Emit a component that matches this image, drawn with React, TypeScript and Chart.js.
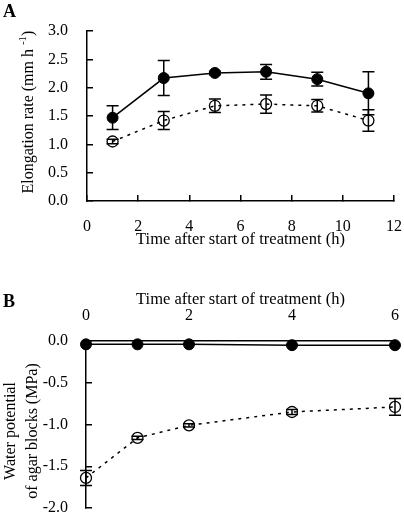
import { useEffect, useRef } from "react";
import { Chart, registerables } from "chart.js";

Chart.register(...registerables);

const FONT = '"Liberation Serif", "Times New Roman", serif';
Chart.defaults.font.family = FONT;
Chart.defaults.color = "#000";

// ---------- Panel A data ----------
const aTimes = [1, 3, 5, 7, 9, 11];
const aControl = [1.47, 2.17, 2.26, 2.28, 2.15, 1.9];
const aControlErr = [0.21, 0.31, 0.03, 0.13, 0.12, 0.38];
const aTreated = [1.05, 1.42, 1.68, 1.71, 1.68, 1.42];
const aTreatedErr = [0.04, 0.16, 0.12, 0.16, 0.11, 0.19];
const aXTicks = [0, 2, 4, 6, 8, 10, 12];
const aYTicks = [0, 0.5, 1, 1.5, 2, 2.5, 3];

// ---------- Panel B data ----------
const bTimes = [0, 1, 2, 4, 6];
const bControl = [-0.04, -0.04, -0.04, -0.05, -0.05];
const bTreated = [-1.64, -1.16, -1.01, -0.85, -0.79];
const bTreatedErr = [0.09, 0.02, 0.02, 0.03, 0.1];
const bXTicks = [0, 2, 4, 6];
const bYTicks = [0, -0.5, -1, -1.5, -2];

const errorBarPlugin = {
  id: "errorBars",
  afterDatasetsDraw(chart: any) {
    const ctx = chart.ctx;
    const xs = chart.scales.x;
    const ys = chart.scales.y;
    chart.data.datasets.forEach((ds: any) => {
      if (!ds.errors) return;
      ds.data.forEach((p: any, j: number) => {
        const e = ds.errors[j];
        if (!e) return;
        const x = xs.getPixelForValue(p.x);
        const yT = ys.getPixelForValue(p.y + e);
        const yB = ys.getPixelForValue(p.y - e);
        ctx.save();
        ctx.strokeStyle = "#000";
        ctx.lineWidth = 1.5;
        ctx.beginPath();
        ctx.moveTo(x, yT);
        ctx.lineTo(x, yB);
        ctx.moveTo(x - 6, yT);
        ctx.lineTo(x + 6, yT);
        ctx.moveTo(x - 6, yB);
        ctx.lineTo(x + 6, yB);
        ctx.stroke();
        ctx.restore();
      });
    });
  },
};

function makeTextPlugin(draw: (ctx: CanvasRenderingContext2D) => void) {
  return {
    id: "panelText",
    afterDraw(chart: any) {
      const ctx = chart.ctx as CanvasRenderingContext2D;
      ctx.save();
      ctx.fillStyle = "#000";
      draw(ctx);
      ctx.restore();
    },
  };
}

const textA = makeTextPlugin((ctx) => {
  ctx.font = `bold 18px ${FONT}`;
  ctx.textBaseline = "alphabetic";
  ctx.textAlign = "left";
  ctx.fillText("A", 3, 17);

  // rotated y title with superscript
  const main = "Elongation rate (mm h ";
  const sup = "-1";
  const close = ")";
  ctx.font = `16px ${FONT}`;
  const w1 = ctx.measureText(main).width;
  const w3 = ctx.measureText(close).width;
  ctx.font = `11px ${FONT}`;
  const w2 = ctx.measureText(sup).width;
  const total = w1 + w2 + w3;
  ctx.translate(33, 112);
  ctx.rotate(-Math.PI / 2);
  let x = -total / 2;
  ctx.font = `16px ${FONT}`;
  ctx.fillText(main, x, 0);
  x += w1;
  ctx.font = `11px ${FONT}`;
  ctx.fillText(sup, x, -7);
  x += w2;
  ctx.font = `16px ${FONT}`;
  ctx.fillText(close, x, 0);
});

const textB = makeTextPlugin((ctx) => {
  ctx.font = `bold 18px ${FONT}`;
  ctx.textBaseline = "alphabetic";
  ctx.textAlign = "left";
  ctx.fillText("B", 3, 57);

  ctx.font = `16px ${FONT}`;
  ctx.textAlign = "center";
  ctx.translate(0, 181);
  ctx.rotate(-Math.PI / 2);
  ctx.fillText("Water potential", 0, 15);
  ctx.fillText("of agar blocks (MPa)", 0, 36.5);
});

function zeroPad(s: any) {
  s.paddingTop = 0;
  s.paddingBottom = 0;
  s.paddingLeft = 0;
  s.paddingRight = 0;
}

const tickFont = { family: FONT, size: 16 };
const titleFont = { family: FONT, size: 16.5 };

export default function App() {
  const refA = useRef<HTMLCanvasElement>(null);
  const refB = useRef<HTMLCanvasElement>(null);

  useEffect(() => {
    const chartA = new Chart(refA.current!, {
      type: "line",
      data: {
        datasets: [
          {
            data: aTimes.map((t, i) => ({ x: t, y: aTreated[i] })),
            errors: aTreatedErr,
            borderColor: "#000",
            borderWidth: 1.5,
            borderDash: [3, 5],
            pointRadius: 5.5,
            pointBorderWidth: 1.3,
            pointBorderColor: "#000",
            pointBackgroundColor: "rgba(0,0,0,0)",
            tension: 0,
            clip: false,
          } as any,
          {
            data: aTimes.map((t, i) => ({ x: t, y: aControl[i] })),
            errors: aControlErr,
            borderColor: "#000",
            borderWidth: 1.5,
            pointRadius: 5.5,
            pointBorderWidth: 1,
            pointBorderColor: "#000",
            pointBackgroundColor: "#000",
            tension: 0,
            clip: false,
          } as any,
        ],
      },
      options: {
        responsive: false,
        animation: false,
        devicePixelRatio: 1,
        layout: { padding: { top: 31, right: 10, left: 0, bottom: 0 } },
        plugins: { legend: { display: false }, tooltip: { enabled: false } },
        scales: {
          x: {
            type: "linear",
            position: "bottom",
            min: 0,
            max: 12,
            afterBuildTicks: (s: any) => {
              s.ticks = aXTicks.map((v) => ({ value: v }));
            },
            afterFit: (s: any) => {
              s.height = 49;
              zeroPad(s);
            },
            grid: { drawOnChartArea: false, drawTicks: true, tickLength: -6, color: "#000", lineWidth: 1.5 },
            border: { display: true, color: "#000", width: 1.5 },
            ticks: {
              color: "#000",
              font: tickFont,
              padding: 22,
              maxRotation: 0,
              autoSkip: false,
              callback: (v: any) => String(v),
            },
            title: {
              display: true,
              text: "Time after start of treatment (h)",
              color: "#000",
              font: titleFont,
              padding: { top: 0, bottom: 0 },
            },
          },
          y: {
            type: "linear",
            position: "left",
            min: 0,
            max: 3,
            afterBuildTicks: (s: any) => {
              s.ticks = aYTicks.map((v) => ({ value: v }));
            },
            afterFit: (s: any) => {
              s.width = 87;
              zeroPad(s);
            },
            grid: { drawOnChartArea: false, drawTicks: true, tickLength: -6, color: "#000", lineWidth: 1.5 },
            border: { display: true, color: "#000", width: 1.5 },
            ticks: {
              color: "#000",
              font: tickFont,
              padding: 25,
              autoSkip: false,
              callback: (v: any) => Number(v).toFixed(1),
            },
          },
        },
      } as any,
      plugins: [errorBarPlugin, textA],
    });

    const chartB = new Chart(refB.current!, {
      type: "line",
      data: {
        datasets: [
          {
            data: bTimes.map((t, i) => ({ x: t, y: bTreated[i] })),
            errors: bTreatedErr,
            borderColor: "#000",
            borderWidth: 1.5,
            borderDash: [3, 5],
            pointRadius: 5.5,
            pointBorderWidth: 1.3,
            pointBorderColor: "#000",
            pointBackgroundColor: "rgba(0,0,0,0)",
            tension: 0,
            clip: false,
          } as any,
          {
            data: bTimes.map((t, i) => ({ x: t, y: bControl[i] })),
            borderColor: "#000",
            borderWidth: 1.5,
            pointRadius: 5.5,
            pointBorderWidth: 1,
            pointBorderColor: "#000",
            pointBackgroundColor: "#000",
            tension: 0,
            clip: false,
          } as any,
        ],
      },
      options: {
        responsive: false,
        animation: false,
        devicePixelRatio: 1,
        layout: { padding: { top: 0, right: 9, left: 0, bottom: 7 } },
        plugins: { legend: { display: false }, tooltip: { enabled: false } },
        scales: {
          x: {
            type: "linear",
            position: "top",
            min: 0,
            max: 6,
            afterBuildTicks: (s: any) => {
              s.ticks = bXTicks.map((v) => ({ value: v }));
            },
            afterFit: (s: any) => {
              s.height = 91;
              zeroPad(s);
            },
            grid: { display: false, drawOnChartArea: false, drawTicks: false, tickLength: 0 },
            border: { display: true, color: "#000", width: 1.5 },
            ticks: {
              color: "#000",
              font: tickFont,
              padding: 16,
              maxRotation: 0,
              autoSkip: false,
              callback: (v: any) => String(v),
            },
            title: {
              display: true,
              text: "Time after start of treatment (h)",
              color: "#000",
              font: titleFont,
              padding: { top: 40, bottom: 0 },
            },
          },
          y: {
            type: "linear",
            position: "left",
            min: -2,
            max: 0,
            afterBuildTicks: (s: any) => {
              s.ticks = bYTicks.map((v) => ({ value: v }));
            },
            afterFit: (s: any) => {
              s.width = 86;
              zeroPad(s);
            },
            grid: { drawOnChartArea: false, drawTicks: true, tickLength: -6, color: "#000", lineWidth: 1.5 },
            border: { display: true, color: "#000", width: 1.5 },
            ticks: {
              color: "#000",
              font: tickFont,
              padding: 24,
              autoSkip: false,
              callback: (v: any) => Number(v).toFixed(1),
            },
          },
        },
      } as any,
      plugins: [errorBarPlugin, textB],
    });

    return () => {
      chartA.destroy();
      chartB.destroy();
    };
  }, []);

  return (
    <div style={{ position: "absolute", left: 0, top: 0, width: 404, height: 515, background: "#fff" }}>
      <canvas ref={refA} width={404} height={250} style={{ position: "absolute", left: 0, top: 0, display: "block" }} />
      <canvas ref={refB} width={404} height={265} style={{ position: "absolute", left: 0, top: 250, display: "block" }} />
    </div>
  );
}
